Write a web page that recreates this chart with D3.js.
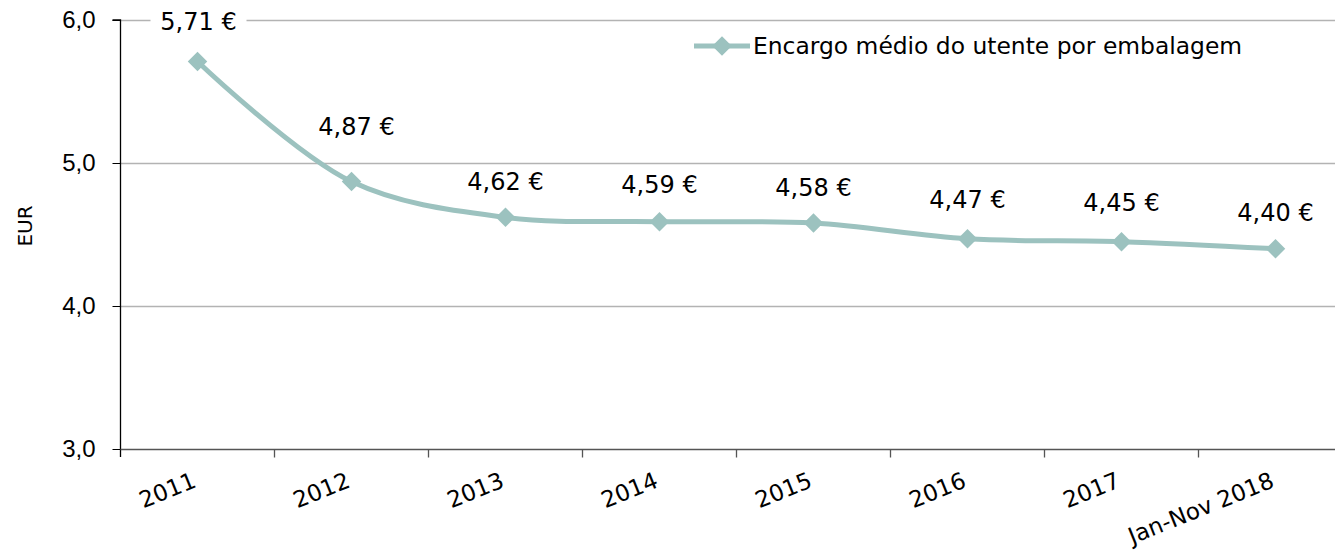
<!DOCTYPE html>
<html><head><meta charset="utf-8">
<script src="https://cdn.jsdelivr.net/npm/d3@7"></script>
<style>
body{margin:0;background:#fff;}
svg{display:block;font-family:"DejaVu Sans",sans-serif;}
</style></head>
<body><svg id="c" width="1335" height="554"></svg>
<script>
const categories = ["2011","2012","2013","2014","2015","2016","2017","Jan-Nov 2018"];
const values = [5.71,4.87,4.62,4.59,4.58,4.47,4.45,4.40];
const valueLabels = ["5,71 €","4,87 €","4,62 €","4,59 €","4,58 €","4,47 €","4,45 €","4,40 €"];
const yTicks = [3,4,5,6];
const yTickLabels = ["3,0","4,0","5,0","6,0"];
const seriesName = "Encargo médio do utente por embalagem";
const yTitle = "EUR";

const svg = d3.select("#c");
const color = "#9cc2bf";
const pLeft = 120.5, step = 154, pTop = 20, pBottom = 449;
const x = d3.scaleBand().domain(categories).range([pLeft, pLeft + step*categories.length]).padding(0);
const y = d3.scaleLinear().domain([3,6]).range([pBottom, pTop]);

// gridlines
svg.append("g").selectAll("line").data(yTicks.filter(t=>t>3)).join("line")
  .attr("x1", pLeft).attr("x2", 1335).attr("y1", d=>Math.round(y(d))+0.5).attr("y2", d=>Math.round(y(d))+0.5)
  .attr("stroke", "#b3b3b3").attr("stroke-width", 1.3);

// y axis
const yAxis = d3.axisLeft(y).tickValues(yTicks).tickSize(8).tickPadding(17)
  .tickFormat((d)=>yTickLabels[yTicks.indexOf(d)]);
const ga = svg.append("g").attr("transform", `translate(${pLeft},0)`).call(yAxis);
ga.select(".domain").attr("stroke","#000").attr("stroke-width",1.3).attr("d", `M-8,${pTop}H0V${pBottom+8}`);
ga.selectAll(".tick line").attr("stroke","#000");
ga.selectAll(".tick text").attr("font-size", 24).attr("fill","#000").attr("font-family","inherit");

// x axis
const gx = svg.append("g").attr("transform", `translate(0,${pBottom+0.5})`);
gx.append("line").attr("x1", pLeft).attr("x2", 1335).attr("stroke","#555").attr("stroke-width",1.5);
gx.selectAll(".tk").data(categories.slice(1)).join("line").attr("class","tk")
  .attr("x1", d=>x(d)).attr("x2", d=>x(d)).attr("y1",0).attr("y2",8).attr("stroke","#555").attr("stroke-width",1.3);
gx.selectAll("text").data(categories).join("text")
  .attr("transform", d=>`translate(${x(d)+x.bandwidth()/2},37) rotate(-22)`)
  .attr("text-anchor","end").attr("font-size", 23).attr("fill","#000")
  .text(d=>d);

// y title
svg.append("text").attr("transform", `translate(32,226) rotate(-90)`)
  .attr("text-anchor","middle").attr("font-size",20).text(yTitle);

// line
const cx = d => x(d) + x.bandwidth()/2;
const line = d3.line().x((d,i)=>cx(categories[i])).y(d=>y(d)).curve(d3.curveCatmullRom.alpha(0.5));
svg.append("path").datum(values).attr("d", line).attr("fill","none").attr("stroke",color).attr("stroke-width",5);

const diamond = d3.symbol().type(d3.symbolSquare).size(190);
svg.append("g").selectAll("path").data(values).join("path")
  .attr("d", diamond).attr("fill", color)
  .attr("transform",(d,i)=>`translate(${cx(categories[i])},${y(d)}) rotate(45)`);

// labels
const labelDy = [-40,-55,-36,-37,-36,-39,-39,-36];
const labelDx = [1,5,0,0,0,0,0,0];
const lg = svg.append("g").selectAll("g").data(values).join("g")
  .attr("transform",(d,i)=>`translate(${cx(categories[i])+labelDx[i]},${y(d)+labelDy[i]})`);
lg.append("rect").attr("x",-48).attr("y",-16).attr("width",96).attr("height",32).attr("fill","#fff");
lg.append("text").attr("text-anchor","middle").attr("dy","0.36em").attr("font-size",24).attr("fill","#000")
  .text((d,i)=>valueLabels[i]);

// legend
const leg = svg.append("g").attr("transform","translate(694,46)");
leg.append("line").attr("x1",0).attr("x2",56).attr("stroke",color).attr("stroke-width",5);
leg.append("path").attr("d",diamond).attr("fill",color).attr("transform","translate(28,0) rotate(45)");
leg.append("text").attr("x",59).attr("dy","0.36em").attr("font-size",23.4).attr("fill","#000").text(seriesName);
</script></body></html>
